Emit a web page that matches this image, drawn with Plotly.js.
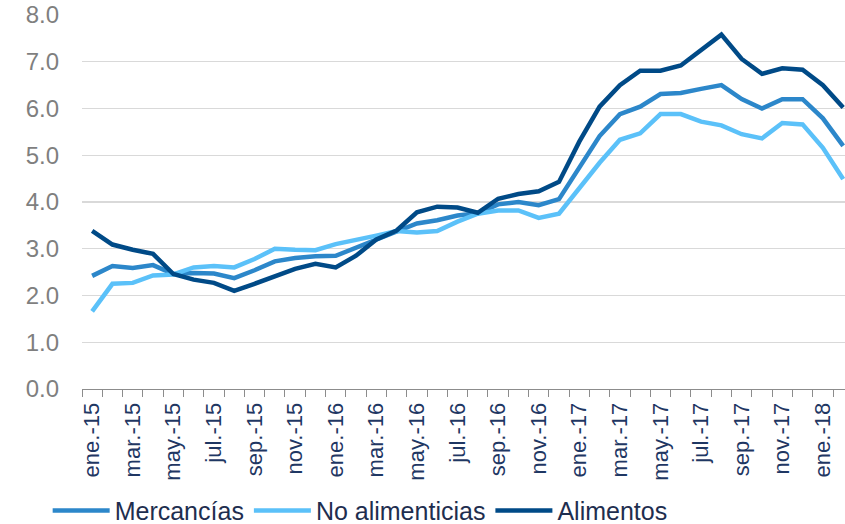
<!DOCTYPE html>
<html>
<head>
<meta charset="utf-8">
<script src="https://cdn.plot.ly/plotly-3.0.1.min.js"></script>
<style>
html,body{margin:0;padding:0;background:#fff;overflow:hidden;}
#chart{width:845px;height:540px;}
</style>
</head>
<body>
<div id="chart"></div>
<script>
var months = ["ene.-15","feb.-15","mar.-15","abr.-15","may.-15","jun.-15","jul.-15","ago.-15","sep.-15","oct.-15","nov.-15","dic.-15",
  "ene.-16","feb.-16","mar.-16","abr.-16","may.-16","jun.-16","jul.-16","ago.-16","sep.-16","oct.-16","nov.-16","dic.-16",
  "ene.-17","feb.-17","mar.-17","abr.-17","may.-17","jun.-17","jul.-17","ago.-17","sep.-17","oct.-17","nov.-17","dic.-17",
  "ene.-18","feb.-18"];

var mercancias = [2.42,2.63,2.59,2.65,2.46,2.48,2.47,2.37,2.54,2.73,2.80,2.84,
  2.85,3.02,3.20,3.38,3.54,3.61,3.71,3.76,3.95,4.00,3.93,4.06,
  4.74,5.41,5.88,6.04,6.31,6.33,6.42,6.50,6.20,6.00,6.20,6.20,
  5.79,5.20];

var noAlimenticias = [1.66,2.25,2.27,2.43,2.45,2.60,2.63,2.60,2.78,3.00,2.98,2.97,
  3.10,3.18,3.28,3.38,3.35,3.38,3.58,3.75,3.82,3.82,3.66,3.75,
  4.31,4.84,5.33,5.47,5.88,5.88,5.72,5.64,5.45,5.36,5.69,5.66,
  5.16,4.49];

var alimentos = [3.38,3.09,2.98,2.89,2.46,2.34,2.27,2.10,2.25,2.40,2.57,2.68,
  2.60,2.85,3.20,3.39,3.78,3.90,3.88,3.77,4.07,4.17,4.23,4.43,
  5.29,6.04,6.50,6.81,6.81,6.92,7.25,7.58,7.06,6.74,6.86,6.83,
  6.50,6.02];

var seriesNames = ["Mercancías","No alimenticias","Alimentos"];
var seriesColors = ["#2C87CA","#5BC1F9","#004A87"];
var seriesValues = [mercancias, noAlimenticias, alimentos];

var yTicks = [0,1,2,3,4,5,6,7,8];
var yTickText = ["0.0","1.0","2.0","3.0","4.0","5.0","6.0","7.0","8.0"];

var xTickText = months.map(function(m,i){ return i % 2 === 0 ? m : ""; });

var traces = seriesValues.map(function(vals, k){
  return {
    type: "scatter",
    mode: "lines",
    name: seriesNames[k],
    x: months,
    y: vals,
    line: {color: seriesColors[k], width: 4.5},
    hoverinfo: "skip"
  };
});

var layout = {
  width: 845,
  height: 540,
  margin: {l: 82, r: 0, t: 15, b: 151},
  paper_bgcolor: "#ffffff",
  plot_bgcolor: "#ffffff",
  font: {family: "Liberation Sans, Arial, sans-serif"},
  showlegend: true,
  legend: {
    orientation: "h",
    x: -0.045,
    xanchor: "left",
    y: -0.387,
    yanchor: "bottom",
    font: {size: 25, color: "#1E2E4F", family: "Liberation Sans, Arial, sans-serif"},
    itemwidth: 57,
    tracegroupgap: 0,
    borderwidth: 0,
    bgcolor: "rgba(0,0,0,0)"
  },
  xaxis: {
    type: "category",
    range: [-0.5, 37.09],
    tickmode: "array",
    tickvals: months,
    ticktext: xTickText,
    tickson: "boundaries",
    ticks: "outside",
    ticklen: 7,
    tickwidth: 1,
    tickcolor: "#8C8C8C",
    tickangle: -90,
    ticklabelstandoff: 4,
    tickfont: {size: 22, color: "#1F3763", family: "Liberation Sans, Arial, sans-serif"},
    showline: true,
    linecolor: "#8C8C8C",
    linewidth: 1,
    showgrid: false,
    zeroline: false,
    automargin: false,
    fixedrange: true
  },
  yaxis: {
    range: [0, 8],
    tickmode: "array",
    tickvals: yTicks,
    ticktext: yTickText,
    ticks: "",
    ticklabelstandoff: 22,
    tickfont: {size: 24, color: "#7F7F7F", family: "Liberation Sans, Arial, sans-serif"},
    showgrid: true,
    gridcolor: "#D9D9D9",
    gridwidth: 1.3,
    zeroline: false,
    showline: false,
    automargin: false,
    fixedrange: true
  }
};

Plotly.newPlot("chart", traces, layout, {displayModeBar: false, staticPlot: true});
</script>
</body>
</html>
